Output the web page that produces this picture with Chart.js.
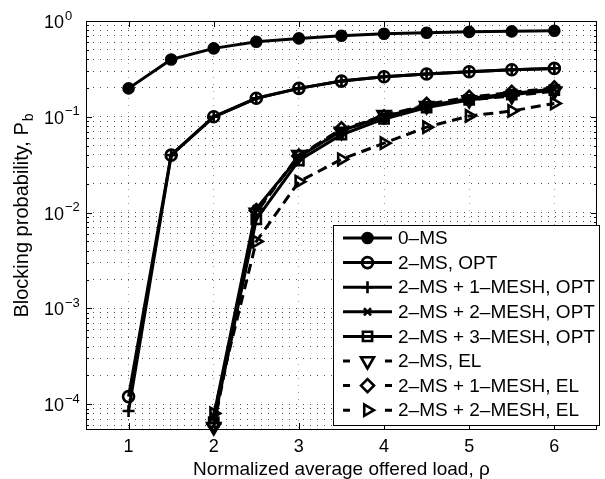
<!DOCTYPE html>
<html><head><meta charset="utf-8">
<script src="https://cdn.jsdelivr.net/npm/chart.js@4.4.1/dist/chart.umd.min.js"></script>
<style>
html,body{margin:0;padding:0;background:#fff;overflow:hidden;width:605px;height:479px}
#wrap{position:absolute;left:0;top:0;width:607px;height:479px}
canvas{display:block}
</style>
</head><body><div id="wrap"><canvas id="c" width="607" height="479" style="width:607px;height:479px"></canvas></div>
<script>
// ---- data ----
const loadsAll = [1, 1.5, 2, 2.5, 3, 3.5, 4, 4.5, 5, 5.5, 6];
const loadsFrom2 = [2, 2.5, 3, 3.5, 4, 4.5, 5, 5.5, 6];
const ms0 = [0.198, 0.397, 0.518, 0.607, 0.658, 0.701, 0.735, 0.755, 0.77, 0.78, 0.79];
const ms2Opt = [1.2e-4, 0.0398, 0.1, 0.156, 0.198, 0.236, 0.262, 0.28, 0.295, 0.31, 0.32];
const ms2Mesh1Opt = [8.5e-5, 0.0398, 0.1, 0.156, 0.198, 0.236, 0.262, 0.28, 0.295, 0.31, 0.32];
const ms2Mesh2Opt = [7.5e-5, 0.011, 0.038, 0.072, 0.100, 0.130, 0.155, 0.175, 0.195];
const ms2Mesh3Opt = [6.5e-5, 0.0085, 0.035, 0.065, 0.095, 0.125, 0.150, 0.170, 0.190];
const ms2El = [5.8e-5, 0.010, 0.040, 0.070, 0.105, 0.130, 0.150, 0.165, 0.185];
const ms2Mesh1El = [6.2e-5, 0.0105, 0.039, 0.075, 0.100, 0.135, 0.160, 0.180, 0.200];
const ms2Mesh2El = [8.0e-5, 0.005, 0.021, 0.036, 0.053, 0.078, 0.102, 0.115, 0.138];
const seriesLabels = ['0\u2013MS', '2\u2013MS, OPT', '2\u2013MS + 1\u2013MESH, OPT', '2\u2013MS + 2\u2013MESH, OPT',
  '2\u2013MS + 3\u2013MESH, OPT', '2\u2013MS, EL', '2\u2013MS + 1\u2013MESH, EL', '2\u2013MS + 2\u2013MESH, EL'];
const xTicks = [1, 2, 3, 4, 5, 6];
const yDecades = [1e-4, 1e-3, 1e-2, 1e-1, 1];
const yDecadeExps = ['\u22124', '\u22123', '\u22122', '\u22121', '0'];
const xTitle = 'Normalized average offered load, \u03c1';
const yTitleMain = 'Blocking probability, P';
const yTitleSub = 'b';

// ---- styling ----
const FONT = '"Liberation Sans", Arial, Helvetica, sans-serif';
const X_MIN = 0.5, X_MAX = 6.5, Y_MIN = 5.51e-5, Y_MAX = 1;
const MARKER_LW = 2.6;

function pts(xs, ys) { return ys.map((v, i) => ({x: xs[i], y: v})); }

const styles = [
  {xs: loadsAll, ys: ms0, marker: 'circle', r: 5, fill: '#000', dash: [], rot: 0},
  {xs: loadsAll, ys: ms2Opt, marker: 'circle', r: 5.5, fill: 'rgba(0,0,0,0)', dash: [], rot: 0},
  {xs: loadsAll, ys: ms2Mesh1Opt, marker: 'cross', r: 6, fill: 'rgba(0,0,0,0)', dash: [], rot: 0},
  {xs: loadsFrom2, ys: ms2Mesh2Opt, marker: 'crossRot', r: 5, fill: 'rgba(0,0,0,0)', dash: [], rot: 0},
  {xs: loadsFrom2, ys: ms2Mesh3Opt, marker: 'rect', r: 6.5, fill: 'rgba(0,0,0,0)', dash: [], rot: 0},
  {xs: loadsFrom2, ys: ms2El, marker: 'triangle', r: 7.5, fill: 'rgba(0,0,0,0)', dash: [10, 6], rot: 180},
  {xs: loadsFrom2, ys: ms2Mesh1El, marker: 'rectRot', r: 6.5, fill: 'rgba(0,0,0,0)', dash: [10, 6], rot: 0},
  {xs: loadsFrom2, ys: ms2Mesh2El, marker: 'triangle', r: 6.5, fill: 'rgba(0,0,0,0)', dash: [10, 6], rot: 90}
];

const datasets = styles.map((s, i) => ({
  label: seriesLabels[i],
  data: pts(s.xs, s.ys),
  borderColor: '#000',
  borderWidth: 3,
  borderDash: s.dash,
  pointStyle: s.marker,
  pointRadius: s.r,
  pointHoverRadius: s.r,
  pointRotation: s.rot,
  pointBackgroundColor: s.fill,
  pointBorderColor: '#000',
  pointBorderWidth: MARKER_LW,
  fill: false,
  tension: 0,
  clip: false,
  order: styles.length - i
}));

function yMinorTicks() {
  const out = [];
  for (let e = -5; e <= 0; e++) {
    for (let m = 1; m <= 9; m++) {
      const v = m * Math.pow(10, e);
      if (v >= Y_MIN * 0.999 && v <= Y_MAX * 1.0001) out.push(v);
    }
  }
  return out;
}

function drawMarkerAt(ctx, s, x, y) {
  ctx.save();
  ctx.setLineDash([]);
  ctx.strokeStyle = '#000';
  ctx.fillStyle = s.fill;
  ctx.lineWidth = MARKER_LW;
  if (Chart.helpers && Chart.helpers.drawPoint) {
    Chart.helpers.drawPoint(ctx, {pointStyle: s.marker, rotation: s.rot, radius: s.r, borderWidth: MARKER_LW}, x, y);
  } else {
    ctx.beginPath(); ctx.arc(x, y, s.r, 0, Math.PI * 2); ctx.fill(); ctx.stroke();
  }
  ctx.restore();
}

const decor = {
  id: 'decor',
  beforeDraw(chart) {
    const c = chart.ctx;
    c.save(); c.fillStyle = '#fff'; c.fillRect(0, 0, chart.width, chart.height); c.restore();
  },
  afterDraw(chart) {
    const c = chart.ctx, a = chart.chartArea;
    const xs = chart.scales.x, ys = chart.scales.y;
    c.save();
    // frame
    c.strokeStyle = '#000'; c.lineWidth = 1; c.setLineDash([]);
    c.strokeRect(Math.round(a.left) + 0.5, Math.round(a.top) + 0.5, Math.round(a.right - a.left) - 1, Math.round(a.bottom - a.top));
    // inner ticks
    c.beginPath();
    xTicks.forEach(v => {
      const px = Math.round(xs.getPixelForValue(v)) + 0.5;
      c.moveTo(px, a.bottom); c.lineTo(px, a.bottom - 6);
      c.moveTo(px, a.top); c.lineTo(px, a.top + 6);
    });
    yMinorTicks().forEach(v => {
      const py = Math.round(ys.getPixelForValue(v)) + 0.5;
      const major = yDecades.some(d => Math.abs(d - v) / d < 1e-6);
      const len = major ? 6 : 3;
      c.moveTo(a.left, py); c.lineTo(a.left + len, py);
      c.moveTo(a.right, py); c.lineTo(a.right - len, py);
    });
    c.stroke();
    // x tick labels
    c.fillStyle = '#000';
    c.font = '18px ' + FONT;
    c.textAlign = 'center'; c.textBaseline = 'middle';
    xTicks.forEach(v => c.fillText(String(v), xs.getPixelForValue(v), 447));
    // y tick labels 10^k
    yDecades.forEach((v, i) => {
      const py = ys.getPixelForValue(v);
      c.font = '18px ' + FONT;
      c.textAlign = 'right'; c.textBaseline = 'middle';
      c.fillText('10', 64, py + 2);
      c.font = '13px ' + FONT;
      c.textAlign = 'left';
      c.fillText(yDecadeExps[i], 65, py - 5);
    });
    // x title
    c.font = '19px ' + FONT;
    c.textAlign = 'center'; c.textBaseline = 'alphabetic';
    c.fillText(xTitle, (a.left + a.right) / 2, 475);
    // y title (rotated) with subscript
    c.save();
    c.translate(28, 216);
    c.rotate(-Math.PI / 2);
    c.font = '20px ' + FONT;
    const wMain = c.measureText(yTitleMain).width;
    c.font = '14px ' + FONT;
    const wSub = c.measureText(yTitleSub).width;
    const start = -(wMain + wSub) / 2;
    c.textAlign = 'left'; c.textBaseline = 'alphabetic';
    c.font = '20px ' + FONT;
    c.fillText(yTitleMain, start, 0);
    c.font = '14px ' + FONT;
    c.fillText(yTitleSub, start + wMain + 1, 5);
    c.restore();
    // legend
    const L = {left: 333.5, top: 225.5, right: 599.5, bottom: 425.5, row0: 238, step: 24.6, lx0: 343, lx1: 392, tx: 398};
    c.fillStyle = '#fff';
    c.fillRect(L.left, L.top, L.right - L.left, L.bottom - L.top);
    c.strokeStyle = '#000'; c.lineWidth = 1;
    c.strokeRect(L.left, L.top, L.right - L.left, L.bottom - L.top);
    chart.data.datasets.forEach((ds, i) => {
      const s = styles[i];
      const y = L.row0 + i * L.step;
      c.save();
      c.strokeStyle = '#000'; c.lineWidth = 3;
      c.setLineDash(s.dash.length ? [7, 35] : []);
      c.beginPath(); c.moveTo(L.lx0, y); c.lineTo(L.lx1, y); c.stroke();
      c.restore();
      drawMarkerAt(c, s, (L.lx0 + L.lx1) / 2, y);
      c.fillStyle = '#000';
      c.font = '19px ' + FONT;
      c.textAlign = 'left'; c.textBaseline = 'middle';
      c.fillText(ds.label, L.tx, y + 1);
    });
    c.restore();
  }
};

new Chart(document.getElementById('c'), {
  type: 'line',
  data: {datasets},
  options: {
    responsive: false,
    animation: false,
    devicePixelRatio: 1,
    layout: {padding: {left: 0, top: 21, right: 1, bottom: 0}},
    plugins: {legend: {display: false}, tooltip: {enabled: false}, title: {display: false}},
    elements: {line: {borderCapStyle: 'butt', borderJoinStyle: 'miter'}},
    scales: {
      x: {
        type: 'linear', min: X_MIN, max: X_MAX,
        afterBuildTicks: (s) => { s.ticks = xTicks.map(v => ({value: v})); },
        afterFit: (s) => { s.height = 50; },
        ticks: {display: false},
        grid: {color: 'rgba(0,0,0,0.4)', lineWidth: 1, drawTicks: false},
        border: {display: false, dash: [1, 6]}
      },
      y: {
        type: 'logarithmic', min: Y_MIN, max: Y_MAX,
        afterBuildTicks: (s) => { s.ticks = yMinorTicks().map(v => ({value: v})); },
        afterFit: (s) => { s.width = 86; },
        ticks: {display: false},
        grid: {color: 'rgba(0,0,0,0.7)', lineWidth: 1, drawTicks: false},
        border: {display: false, dash: [1, 6]}
      }
    }
  },
  plugins: [decor]
});
</script>
</body></html>
